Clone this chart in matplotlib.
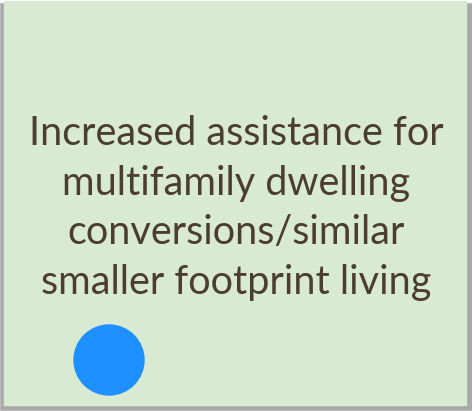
import matplotlib.pyplot as plt
from matplotlib.patches import Rectangle, Circle

note_lines = ["Increased assistance for",
              "multifamily dwelling",
              "conversions/similar",
              "smaller footprint living"]
dot_x = 109
dot_y = 360
dot_r = 35

fig = plt.figure(figsize=(4.72, 4.11), dpi=100)
ax = fig.add_axes([0, 0, 1, 1])
ax.set_xlim(0, 472)
ax.set_ylim(411, 0)
ax.axis('off')

# shadow then note
ax.add_patch(Rectangle((0, 3), 472, 408, color='#c4c4c4', zorder=1))
ax.add_patch(Rectangle((1, 4), 470, 405, color='#a9a9a9', zorder=1))
ax.add_patch(Rectangle((4, 1), 462, 404, color='#d9ead3', zorder=2))

ax.text(236, 208, "\n".join(note_lines), ha='center', va='center',
        fontsize=28.5, family='Lato', color='#4b3d30', linespacing=1.43, zorder=3)

ax.add_patch(Circle((dot_x, dot_y), dot_r, color='#1e90ff', zorder=3))

fig.savefig('out.png', dpi=100)
